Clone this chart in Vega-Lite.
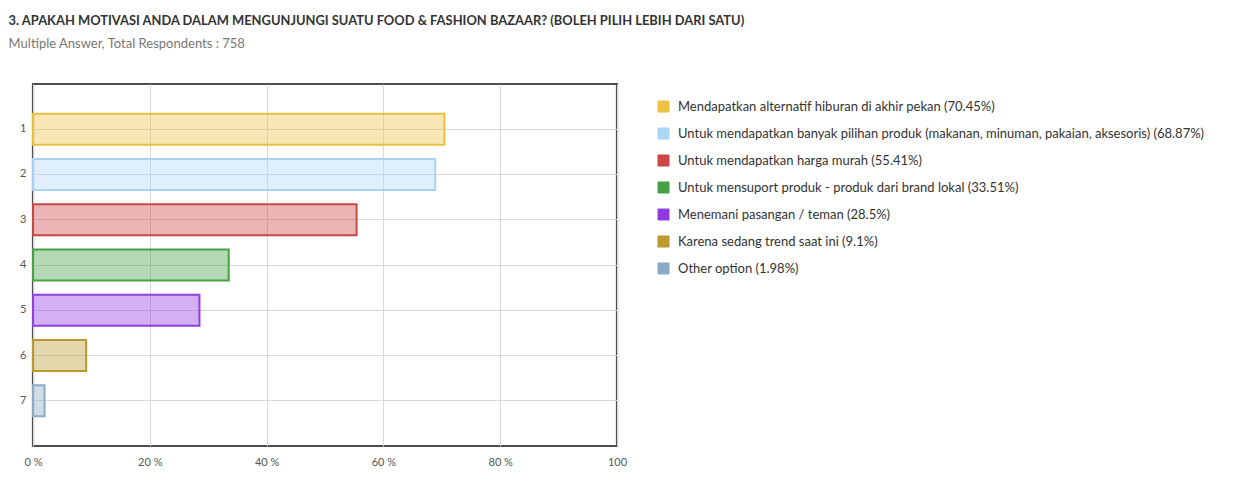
{
  "$schema": "https://vega.github.io/schema/vega-lite/v6.json",
  "width": 584,
  "height": 362,
  "autosize": "none",
  "padding": {"left": 33, "top": 84, "right": 639, "bottom": 31},
  "background": "white",
  "title": {
    "text": "3. APAKAH MOTIVASI ANDA DALAM MENGUNJUNGI SUATU FOOD & FASHION BAZAAR? (BOLEH PILIH LEBIH DARI SATU)",
    "subtitle": "Multiple Answer, Total Respondents : 758",
    "anchor": "start",
    "dx": -11,
    "offset": 33,
    "font": "Lato",
    "fontSize": 12.9,
    "fontWeight": "bold",
    "color": "#333333",
    "subtitleFont": "Lato",
    "subtitleFontSize": 13,
    "subtitleColor": "#777777",
    "subtitlePadding": 10,
    "limit": 1200
  },
  "config": {"view": {"stroke": "#4d4d4d", "strokeWidth": 2.2}, "font": "Lato"},
  "data": {
    "values": [
      {"id": 1, "label": "Mendapatkan alternatif hiburan di akhir pekan (70.45%)", "value": 70.45},
      {"id": 2, "label": "Untuk mendapatkan banyak pilihan produk (makanan, minuman, pakaian, aksesoris) (68.87%)", "value": 68.87},
      {"id": 3, "label": "Untuk mendapatkan harga murah (55.41%)", "value": 55.41},
      {"id": 4, "label": "Untuk mensuport produk - produk dari brand lokal (33.51%)", "value": 33.51},
      {"id": 5, "label": "Menemani pasangan / teman (28.5%)", "value": 28.5},
      {"id": 6, "label": "Karena sedang trend saat ini (9.1%)", "value": 9.1},
      {"id": 7, "label": "Other option (1.98%)", "value": 1.98}
    ]
  },
  "mark": {"type": "bar", "fillOpacity": 0.4, "strokeWidth": 2, "strokeOpacity": 1},
  "encoding": {
    "y": {
      "field": "id",
      "type": "ordinal",
      "scale": {"type": "band", "paddingInner": 0.315, "paddingOuter": 0.657},
      "axis": {
        "title": null,
        "ticks": false,
        "domain": false,
        "labelAngle": 0,
        "labelPadding": 7,
        "labelFontSize": 11,
        "labelColor": "#555555",
        "grid": true,
        "gridColor": "#d9d9d9",
        "bandPosition": 0.5
      }
    },
    "x": {
      "field": "value",
      "type": "quantitative",
      "scale": {"domain": [0, 100], "nice": false},
      "axis": {
        "title": null,
        "values": [0, 20, 40, 60, 80, 100],
        "labelExpr": "datum.value == 100 ? '100' : datum.value + ' %'",
        "ticks": false,
        "domain": false,
        "labelPadding": 10,
        "labelFontSize": 11,
        "labelColor": "#555555",
        "gridColor": "#d9d9d9",
        "labelFlush": false
      }
    },
    "color": {
      "field": "label",
      "type": "nominal",
      "sort": {"field": "id"},
      "scale": {
        "domain": [
          "Mendapatkan alternatif hiburan di akhir pekan (70.45%)",
          "Untuk mendapatkan banyak pilihan produk (makanan, minuman, pakaian, aksesoris) (68.87%)",
          "Untuk mendapatkan harga murah (55.41%)",
          "Untuk mensuport produk - produk dari brand lokal (33.51%)",
          "Menemani pasangan / teman (28.5%)",
          "Karena sedang trend saat ini (9.1%)",
          "Other option (1.98%)"
        ],
        "range": ["#eec244", "#b0d6f6", "#cc4646", "#46a046", "#9038e0", "#bf9a30", "#8aaac6"]
      },
      "legend": {
        "title": null,
        "orient": "none",
        "legendX": 624,
        "legendY": 16,
        "symbolType": "square",
        "symbolSize": 121,
        "labelFont": "Lato",
        "labelFontSize": 13,
        "labelColor": "#333333",
        "labelOffset": 8,
        "labelLimit": 600,
        "rowPadding": 12,
        "encode": {
          "symbols": {
            "update": {
              "fillOpacity": {"value": 1},
              "opacity": {"value": 1},
              "stroke": {"value": "#cccccc"},
              "strokeWidth": {"value": 1}
            }
          }
        }
      }
    },
    "stroke": {
      "field": "label",
      "type": "nominal",
      "scale": {
        "domain": [
          "Mendapatkan alternatif hiburan di akhir pekan (70.45%)",
          "Untuk mendapatkan banyak pilihan produk (makanan, minuman, pakaian, aksesoris) (68.87%)",
          "Untuk mendapatkan harga murah (55.41%)",
          "Untuk mensuport produk - produk dari brand lokal (33.51%)",
          "Menemani pasangan / teman (28.5%)",
          "Karena sedang trend saat ini (9.1%)",
          "Other option (1.98%)"
        ],
        "range": ["#e8c040", "#a8d2f2", "#c84848", "#48a048", "#9040e0", "#b89830", "#8eaac2"]
      },
      "legend": null
    }
  }
}
